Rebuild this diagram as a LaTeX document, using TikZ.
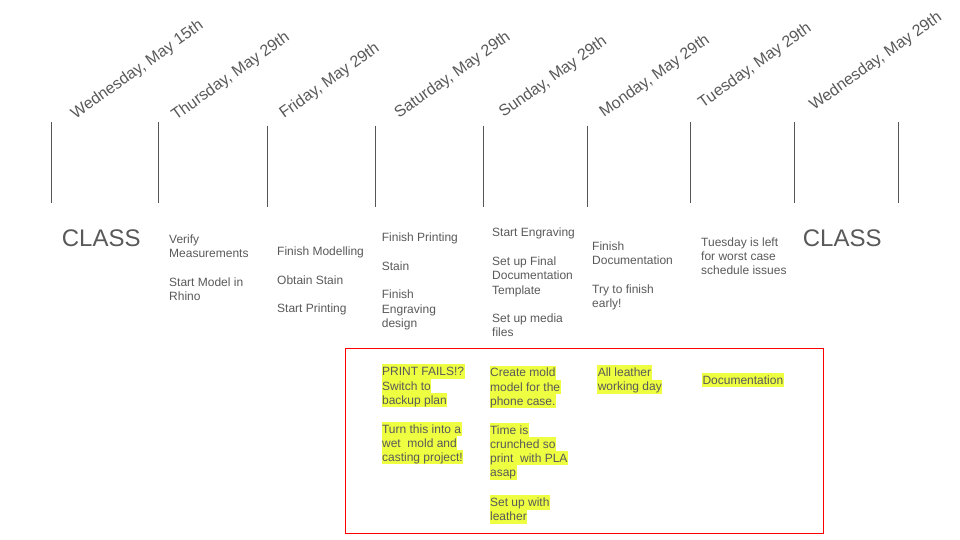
\documentclass[tikz,border=0pt]{standalone}
\usepackage{fontspec}
\setmainfont{Liberation Sans}
\usetikzlibrary{positioning}
\definecolor{inkgray}{HTML}{595959}
\definecolor{rulegray}{HTML}{555555}
\definecolor{hlyellow}{HTML}{EEFF41}
\definecolor{boxred}{HTML}{FF0000}
\newcommand{\daysize}{\fontsize{16bp}{19bp}\selectfont}
\newcommand{\notesize}{\fontsize{12bp}{14.3bp}\selectfont}
\newcommand{\classsize}{\fontsize{24bp}{28bp}\selectfont}
\newcommand{\gap}{\\[14.3bp]}
\newcommand{\hlpara}[4]{%
  \foreach \txt [count=\k] in {#4}
    \node[hlline] (#1\k) at (#2,{#3+(\k-1)*14.25}) {\txt};}

\begin{document}
\begin{tikzpicture}[x=1bp,y=-1bp,
  day/.style={anchor=base west,rotate=35.5,inner sep=0pt,text=inkgray,font=\daysize},
  note/.style={anchor=north west,inner sep=0pt,align=left,text=inkgray,font=\notesize},
  classlbl/.style={anchor=north west,inner sep=0pt,text=inkgray,font=\classsize},
  hlline/.style={anchor=base west,fill=hlyellow,inner xsep=0.6bp,inner ysep=0pt,
    text height=11.35bp,text depth=2.9bp,text=inkgray,font=\notesize},
  daytick/.style={rulegray,line width=1.2bp}]
  \useasboundingbox (0,0) rectangle (960,540);

  % day separators
  \foreach \x/\t in {51.3/122,158.3/122,267.7/126,375.3/126,483.3/126,
                     587.3/126,690.3/122,794.3/122,898.3/122}
    \draw[daytick] (\x,\t) -- (\x,\t+81);

  % day headings
  \node[day] (wed1) at (75.5,119.5) {Wednesday, May 15th};
  \node[day] (thu)  at (176,121) {Thursday, May 29th};
  \node[day] (fri)  at (284,119) {Friday, May 29th};
  \node[day] (sat)  at (399,119) {Saturday, May 29th};
  \node[day] (sun)  at (503.5,118) {Sunday, May 29th};
  \node[day] (mon)  at (604,118) {Monday, May 29th};
  \node[day] (tue)  at (702.7,108.5) {Tuesday, May 29th};
  \node[day] (wed2) at (814,111) {Wednesday, May 29th};

  % plan per day
  \node[classlbl] (class1) at (61.7,230) {CLASS};
  \node[note] (thuplan) at (169,234.6) {Verify\\Measurements\gap Start Model in\\Rhino};
  \node[note] (friplan) at (277,246.6) {Finish Modelling\gap Obtain Stain\gap Start Printing};
  \node[note] (satplan) at (381.7,232.8) {Finish Printing\gap Stain\gap Finish\\Engraving\\design};
  \node[note] (sunplan) at (492,228) {Start Engraving\gap Set up Final\\Documentation\\Template\gap Set up media\\files};
  \node[note] (monplan) at (592,241.8) {Finish\\Documentation\gap Try to finish\\early!};
  \node[note] (tueplan) at (701,237.4) {Tuesday is left\\for worst case\\schedule issues};
  \node[classlbl] (class2) at (802.7,230) {CLASS};

  % backup plan
  \draw[boxred,line width=1bp] (345.3,348.7) rectangle (823.3,533.3);
  \hlpara{fail}{381.3}{375.8}{PRINT FAILS!?,Switch to,backup plan}
  \hlpara{wet}{381.3}{433}{Turn this into a,wet\ \ mold and,casting project!}
  \hlpara{mold}{489.3}{377}{Create mold,model for the,phone case.}
  \hlpara{crunch}{489.3}{434}{Time is,crunched so,print\ \ with PLA,asap}
  \hlpara{leather}{489.3}{506.7}{Set up with,leather}
  \hlpara{allday}{597}{376.7}{All leather,working day}
  \hlpara{docs}{701.7}{384}{Documentation}
\end{tikzpicture}
\end{document}
